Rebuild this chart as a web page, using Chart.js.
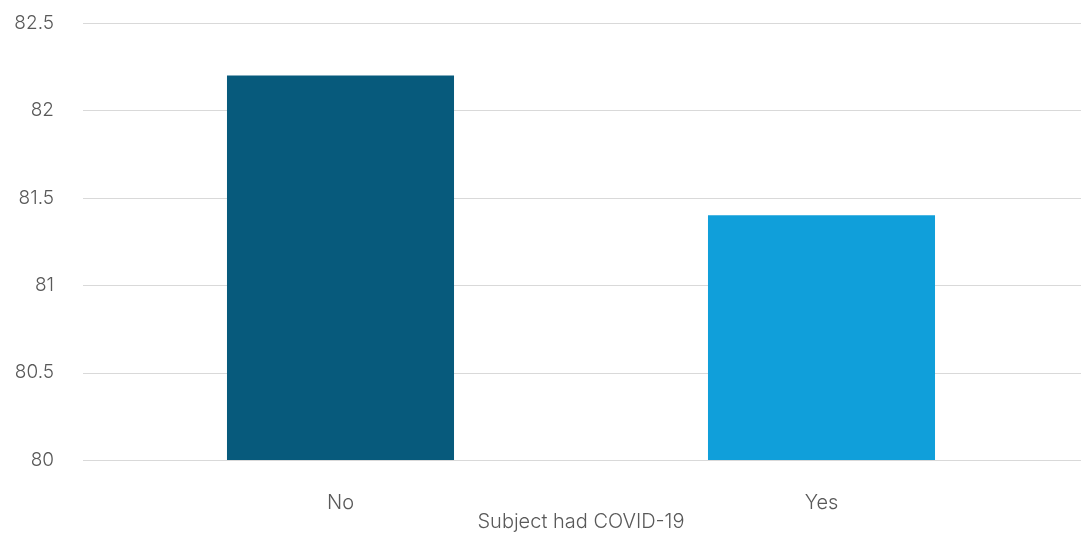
<!DOCTYPE html>
<html>
<head>
<meta charset="utf-8">
<script src="https://cdn.jsdelivr.net/npm/chart.js@4/dist/chart.umd.min.js"></script>
<style>
  html, body { margin: 0; padding: 0; background: #fff; }
  #wrap { width: 1088px; height: 534px; position: relative; }
</style>
</head>
<body>
<div id="wrap"><canvas id="chart"></canvas></div>
<script>
const categories = ["No", "Yes"]
const values = [82.2, 81.4]
const barColors = ["#075A7C", "#109FDA"]
const axisTitle = "Subject had COVID-19"

const textColor = "#595959"
const gridColor = "#D9D9D9"
const font = { family: "Inter, 'Noto Sans', sans-serif", size: 20, weight: "300" }

// Horizontal gridlines run a little past the bar area on both sides
const wideGrid = {
  id: "wideGrid",
  beforeDatasetsDraw(chart) {
    const { ctx, chartArea, scales } = chart
    ctx.save()
    ctx.strokeStyle = gridColor
    ctx.lineWidth = 1
    scales.y.ticks.forEach((t) => {
      const y = Math.round(scales.y.getPixelForValue(t.value)) + 0.5
      ctx.beginPath()
      ctx.moveTo(chartArea.left - 17, y)
      ctx.lineTo(chartArea.right + 19, y)
      ctx.stroke()
    })
    ctx.restore()
  }
}

new Chart(document.getElementById("chart"), {
  type: "bar",
  data: {
    labels: categories,
    datasets: [{
      data: values,
      backgroundColor: barColors,
      barPercentage: 0.472,
      categoryPercentage: 1
    }]
  },
  options: {
    responsive: true,
    maintainAspectRatio: false,
    animation: false,
    layout: { padding: { top: 23, right: 26, bottom: 0, left: 0 } },
    plugins: { legend: { display: false }, tooltip: { enabled: false } },
    scales: {
      x: {
        grid: { display: false },
        border: { display: false },
        ticks: { color: textColor, font, padding: 23 },
        title: { display: true, text: axisTitle, color: textColor, font, padding: { top: 0, bottom: 0 } },
        afterFit: (s) => { s.height = 74 }
      },
      y: {
        min: 80,
        max: 82.5,
        grid: { display: false },
        border: { display: false },
        ticks: {
          stepSize: 0.5,
          color: textColor,
          font: { ...font, size: 19 },
          padding: 38,
          callback: (v) => String(v)
        },
        afterFit: (s) => {
          s.width = 100
          s.paddingTop = 0
          s.paddingBottom = 0
        }
      }
    }
  },
  plugins: [wideGrid]
})
</script>
</body>
</html>
